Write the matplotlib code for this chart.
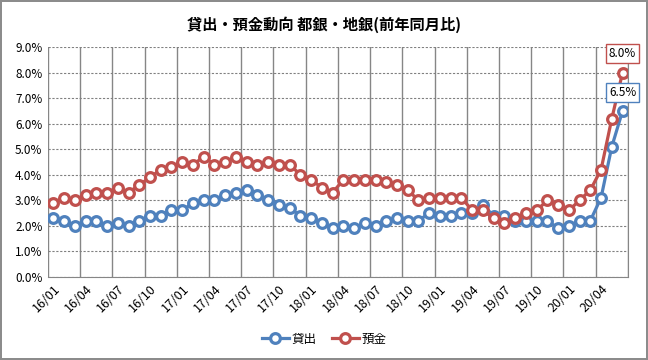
import numpy as np
import matplotlib.pyplot as plt
import matplotlib.transforms as mtrans
from matplotlib.ticker import FuncFormatter, MultipleLocator

plt.rcParams['font.family'] = ['Noto Sans CJK JP', 'DejaVu Sans']

# monthly data 16/01 - 20/06 (前年同月比, %)
months = [f"{y:02d}/{m:02d}" for y in range(16, 21) for m in range(1, 13)][:54]

loans = [2.3, 2.2, 2.0, 2.2, 2.2, 2.0, 2.1, 2.0, 2.2, 2.4, 2.4, 2.6,
         2.6, 2.9, 3.0, 3.0, 3.2, 3.3, 3.4, 3.2, 3.0, 2.8, 2.7, 2.4,
         2.3, 2.1, 1.9, 2.0, 1.9, 2.1, 2.0, 2.2, 2.3, 2.2, 2.2, 2.5,
         2.4, 2.4, 2.5, 2.5, 2.8, 2.4, 2.4, 2.2, 2.2, 2.2, 2.2, 1.9,
         2.0, 2.2, 2.2, 3.1, 5.1, 6.5]
deposits = [2.9, 3.1, 3.0, 3.2, 3.3, 3.3, 3.5, 3.3, 3.6, 3.9, 4.2, 4.3,
            4.5, 4.4, 4.7, 4.4, 4.5, 4.7, 4.5, 4.4, 4.5, 4.4, 4.4, 4.0,
            3.8, 3.5, 3.3, 3.8, 3.8, 3.8, 3.8, 3.7, 3.6, 3.4, 3.0, 3.1,
            3.1, 3.1, 3.1, 2.6, 2.6, 2.3, 2.1, 2.3, 2.5, 2.6, 3.0, 2.8,
            2.6, 3.0, 3.4, 4.2, 6.2, 8.0]

blue = '#4F81BD'
red = '#C0504D'

fig = plt.figure(figsize=(6.48, 3.6), dpi=100)
fig.patch.set_edgecolor('#8c8c8c')
fig.patch.set_linewidth(1.5)
ax = fig.add_axes([0.074, 0.231, 0.895, 0.638])

x = np.arange(len(months))
mk = dict(marker='o', markersize=7, markerfacecolor='white', markeredgewidth=2.3, linewidth=2.3)
ax.plot(x, loans, color=blue, label='貸出', **mk)
ax.plot(x, deposits, color=red, label='預金', **mk)

ax.set_xlim(-0.5, len(months) - 0.5)
ax.set_ylim(0, 9)
ax.yaxis.set_major_locator(MultipleLocator(1))
ax.yaxis.set_major_formatter(FuncFormatter(lambda v, p: f"{v:.1f}%"))
ax.yaxis.grid(True, color='#808080', linestyle=(0, (2, 1.5)), linewidth=0.8)

ax.set_xticks(x[::3])
ax.set_xticklabels(months[::3], rotation=45, ha='right', va='top', rotation_mode='anchor')
shift = mtrans.ScaledTranslation(5 / 72, -2 / 72, fig.dpi_scale_trans)
for lbl in ax.get_xticklabels():
    lbl.set_transform(lbl.get_transform() + shift)
ax.set_xticks(np.arange(-0.5, len(months), 3), minor=True)
ax.xaxis.grid(True, which='minor', color='#868686', linewidth=1.0)
ax.tick_params(axis='x', which='both', length=0, labelsize=9, pad=4)
ax.tick_params(axis='y', length=0, labelsize=8.5, pad=4)
ax.set_axisbelow(True)

for s in ['top', 'left']:
    ax.spines[s].set_visible(False)
for s in ['bottom', 'right']:
    ax.spines[s].set_color('#868686')

# data labels at the last point
ax.annotate(f"{deposits[-1]:.1f}%", (x[-1], deposits[-1]), xytext=(0, 13.5), textcoords='offset points',
            ha='center', va='center', fontsize=8.5,
            bbox=dict(boxstyle='square,pad=0.25', fc='white', ec=red, lw=1))
ax.annotate(f"{loans[-1]:.1f}%", (x[-1], loans[-1]), xytext=(0, 13.5), textcoords='offset points',
            ha='center', va='center', fontsize=8.5,
            bbox=dict(boxstyle='square,pad=0.25', fc='white', ec=blue, lw=1))

fig.suptitle('貸出・預金動向 都銀・地銀(前年同月比)', y=0.955, fontsize=11, fontweight='bold')
fig.legend(loc='center', bbox_to_anchor=(0.5, 0.058), ncol=2, frameon=False, fontsize=9,
           handlelength=2.2, handletextpad=0.2, columnspacing=1.2)

fig.savefig('out.png', dpi=100)
